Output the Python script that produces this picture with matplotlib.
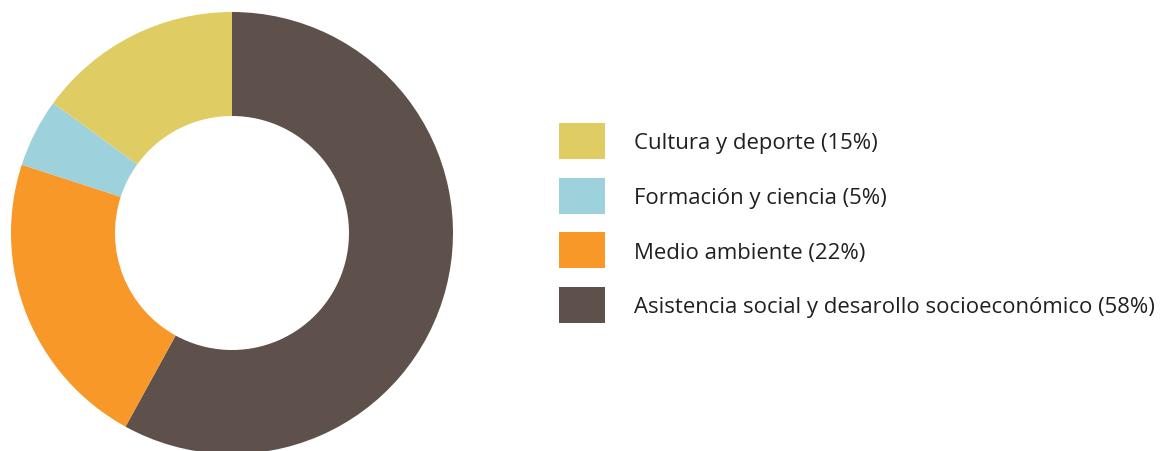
import matplotlib.pyplot as plt
from matplotlib.patches import Rectangle

labels = ["Cultura y deporte", "Formación y ciencia", "Medio ambiente",
          "Asistencia social y desarollo socioeconómico"]
shares = [15, 5, 22, 58]
colors = ["#DFCD63", "#9DD2DD", "#F79828", "#5E504B"]

plt.rcParams["font.family"] = ["Open Sans", "DejaVu Sans"]

W, H = 1164, 452
fig = plt.figure(figsize=(W / 100, H / 100), dpi=100)

# donut: centre (232, 234) px, outer radius 221 px, hole 117 px
cx, cy, r_out, r_in = 232, 234, 221, 117
ax = fig.add_axes([(cx - r_out) / W, (H - cy - r_out) / H, 2 * r_out / W, 2 * r_out / H])
# draw clockwise from the top, brown first
order = [3, 2, 1, 0]
ax.pie([shares[i] for i in order], colors=[colors[i] for i in order],
       startangle=90, counterclock=False, radius=1,
       wedgeprops=dict(width=1 - r_in / r_out, linewidth=0))
ax.set_xlim(-1, 1)
ax.set_ylim(-1, 1)
ax.set_aspect("equal")
ax.axis("off")

# legend
for k, (lab, val, col) in enumerate(zip(labels, shares, colors)):
    yc = 142 + k * 54.6
    fig.add_artist(Rectangle((559 / W, (H - yc - 18) / H), 46 / W, 36 / H,
                             transform=fig.transFigure, color=col, lw=0))
    fig.text(634 / W, (H - yc - 2) / H, f"{lab} ({val}%)", va="center", ha="left",
             fontsize=15.9, color="#231F20")

fig.savefig("out.png", dpi=100)
